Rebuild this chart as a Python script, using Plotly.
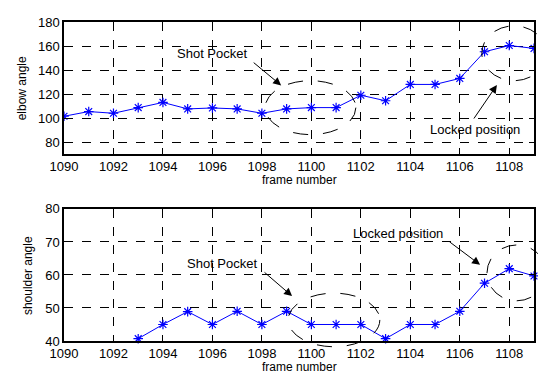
import plotly.graph_objects as go
from plotly.subplots import make_subplots

frames = list(range(1090, 1110))
elbow = [101.5, 105.4, 104, 108.7, 113, 107.6, 108.4, 107.6, 104, 107.6,
         108.7, 108.7, 119, 114.4, 128, 128, 133, 155.2, 160.4, 158]
shoulder = [None, None, None, 40.7, 45, 48.9, 45, 49, 45, 49,
            45, 45, 45, 40.7, 45, 45, 49, 57.5, 61.9, 59.7]
x_ticks = list(range(1090, 1109, 2))
elbow_ticks = [80, 100, 120, 140, 160, 180]
shoulder_ticks = [40, 50, 60, 70, 80]

FONT = "Liberation Sans, Arial, sans-serif"

fig = make_subplots(rows=2, cols=1, vertical_spacing=0.172)

line_style = dict(color="#0000ff", width=1)
marker_style = dict(symbol="asterisk-open", size=8, color="#0000ff",
                    line=dict(color="#0000ff", width=1.2))

fig.add_trace(go.Scatter(x=frames, y=elbow, mode="lines+markers",
                         line=line_style, marker=marker_style,
                         showlegend=False), row=1, col=1)
fig.add_trace(go.Scatter(x=frames, y=shoulder, mode="lines+markers",
                         line=line_style, marker=marker_style,
                         showlegend=False, cliponaxis=False), row=2, col=1)

axis_common = dict(showline=True, mirror="ticks", linecolor="black", linewidth=1.5,
                   ticks="inside", ticklen=5, tickcolor="black",
                   showgrid=True, gridcolor="black", griddash="dash", gridwidth=1,
                   zeroline=False, tickfont=dict(family=FONT, size=13, color="black"))

fig.update_xaxes(range=[1090, 1109], tickvals=x_ticks, **axis_common)
fig.update_yaxes(**axis_common)
fig.update_yaxes(range=[70, 180], tickvals=elbow_ticks, row=1, col=1)
fig.update_yaxes(range=[40, 80], tickvals=shoulder_ticks, row=2, col=1)

# page body has an 8px margin; size the figure so it fits the 546x376 window
fig.update_layout(
    width=538, height=368,
    margin=dict(l=56, r=12, t=7, b=35),
    paper_bgcolor="white", plot_bgcolor="white",
    font=dict(family=FONT, size=13, color="black"),
)
fig.update_layout(yaxis=dict(domain=[0.586, 1.0]), yaxis2=dict(domain=[0.0, 0.414]))

ann = []
title = dict(xref="paper", yref="paper", showarrow=False, font=dict(size=12),
             xanchor="center", yanchor="middle")
# axis titles
ann.append(dict(title, text="elbow angle", x=-0.090, y=0.791, textangle=-90))
ann.append(dict(title, text="shoulder angle", x=-0.077, y=0.206, textangle=-90))
ann.append(dict(title, text="frame number", x=0.5, y=0.504))
ann.append(dict(title, text="frame number", x=0.5, y=-0.082))

# texts (top)
note = dict(showarrow=False, xanchor="center", yanchor="middle")
ann.append(dict(note, text="Shot Pocket", x=1096.0, y=154, xref="x", yref="y"))
ann.append(dict(note, text="Locked position", x=1106.6, y=90.5, xref="x", yref="y"))
# texts (bottom)
ann.append(dict(note, text="Shot Pocket", x=1096.4, y=63.4, xref="x2", yref="y2"))
ann.append(dict(note, text="Locked position", x=1103.5, y=72.6, xref="x2", yref="y2"))

arrow = dict(text="", showarrow=True, arrowhead=2, arrowsize=1.6, arrowwidth=1,
             arrowcolor="black")
ann.append(dict(arrow, x=1098.78, y=127.2, xref="x", yref="y", ax=-29, ay=-24))
ann.append(dict(arrow, x=1107.5, y=127.5, xref="x", yref="y", ax=-24, ay=35))
ann.append(dict(arrow, x=1099.22, y=53.6, xref="x2", yref="y2", ax=-29, ay=-25))
ann.append(dict(arrow, x=1106.82, y=63.1, xref="x2", yref="y2", ax=-32, ay=-24))
fig.update_layout(annotations=ann)

ell = dict(type="circle", xref="paper", yref="paper",
           line=dict(color="black", width=1, dash="longdash"), layer="above")
shapes = [
    dict(ell, x0=0.428, x1=0.621, y0=0.647, y1=0.816),
    dict(ell, x0=0.889, x1=1.026, y0=0.816, y1=0.988),
    dict(ell, x0=0.477, x1=0.672, y0=-0.018, y1=0.150),
    dict(ell, x0=0.900, x1=1.026, y0=0.126, y1=0.301),
]
fig.update_layout(shapes=shapes)

fig.write_html("out.html")
